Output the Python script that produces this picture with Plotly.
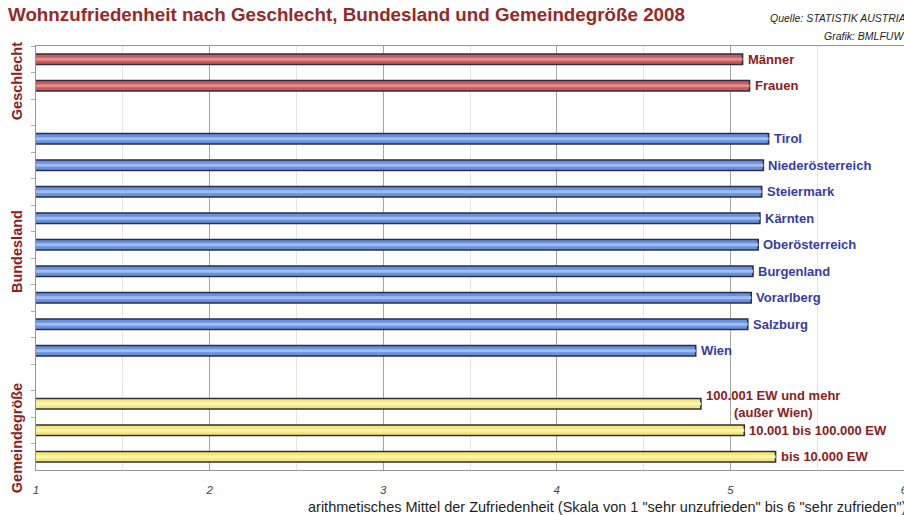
import plotly.graph_objects as go

# Daten
geschlecht = ["Männer", "Frauen"]
geschlecht_werte = [5.07, 5.11]

bundesland = ["Tirol", "Niederösterreich", "Steiermark", "Kärnten", "Oberösterreich",
              "Burgenland", "Vorarlberg", "Salzburg", "Wien"]
bundesland_werte = [5.22, 5.19, 5.18, 5.17, 5.16, 5.13, 5.12, 5.10, 4.80]

gemeinde = ["100.001 EW und mehr", "10.001 bis 100.000 EW", "bis 10.000 EW"]
gemeinde_labels = ["100.001 EW und mehr<br>(außer Wien)", "10.001 bis 100.000 EW", "bis 10.000 EW"]
gemeinde_werte = [4.83, 5.08, 5.26]

x_ticks = [1, 2, 3, 4, 5, 6]

DARK_RED = "rgb(140,32,32)"
LABEL_BLUE = "rgb(55,60,165)"
OUTLINE = "rgb(45,45,65)"

# category order with empty slots between the groups
category_order = geschlecht + ["_gap1"] + bundesland + ["_gap2"] + gemeinde

groups = [
    (geschlecht, geschlecht_werte, geschlecht, "rgb(200,92,92)", "rgb(228,140,140)", DARK_RED),
    (bundesland, bundesland_werte, bundesland, "rgb(105,145,225)", "rgb(160,190,240)", LABEL_BLUE),
    (gemeinde, gemeinde_werte, gemeinde_labels, "rgb(245,232,120)", "rgb(252,246,180)", DARK_RED),
]

fig = go.Figure()
annotations = []

for cats, vals, labels, fill, highlight, text_color in groups:
    fig.add_trace(go.Bar(y=cats, x=vals, orientation="h", width=0.4,
                         marker=dict(color=fill, line=dict(color=OUTLINE, width=1.6)),
                         showlegend=False, hoverinfo="x+y"))
    # lighter stripe in the middle (cylinder look)
    fig.add_trace(go.Bar(y=cats, x=vals, orientation="h", width=0.12,
                         marker=dict(color=highlight, line=dict(width=0)),
                         showlegend=False, hoverinfo="skip"))
    for c, v, lab in zip(cats, vals, labels):
        annotations.append(dict(x=v, y=c, xref="x", yref="y", text=lab, showarrow=False,
                                xanchor="left", yanchor="middle", xshift=3, align="center",
                                font=dict(family="Liberation Sans, Arial", size=13,
                                          color=text_color, weight="bold")))

# group titles on the left
for txt, ypos in [("Geschlecht", 0.917), ("Bundesland", 0.514), ("Gemeindegröße", 0.075)]:
    annotations.append(dict(x=0, y=ypos, xref="paper", yref="paper", text=txt, textangle=-90,
                            showarrow=False, xanchor="center", yanchor="middle", xshift=-19,
                            font=dict(family="Liberation Sans, Arial", size=14.5,
                                      color=DARK_RED, weight="bold")))

# source
annotations.append(dict(x=1, y=1.066, xref="paper", yref="paper", text="Quelle: STATISTIK AUSTRIA",
                        showarrow=False, xanchor="right", yanchor="middle", xshift=4,
                        font=dict(family="Liberation Sans, Arial", size=10.5, color="rgb(30,30,30)",
                                  style="italic")))
annotations.append(dict(x=1, y=1.024, xref="paper", yref="paper", text="Grafik: BMLFUW",
                        showarrow=False, xanchor="right", yanchor="middle", xshift=2,
                        font=dict(family="Liberation Sans, Arial", size=10.5, color="rgb(30,30,30)",
                                  style="italic")))

# x axis title (right aligned, like the original)
annotations.append(dict(x=1, y=-0.087, xref="paper", yref="paper",
                        text='arithmetisches Mittel der Zufriedenheit (Skala von 1 "sehr unzufrieden" bis 6 "sehr zufrieden")',
                        showarrow=False, xanchor="right", yanchor="middle", xshift=4,
                        font=dict(family="Liberation Sans, Arial", size=14.5,
                                  color="rgb(30,30,30)")))

fig.update_layout(
    width=904, height=515,
    barmode="overlay",
    paper_bgcolor="white", plot_bgcolor="white",
    margin=dict(l=36, r=0, t=46, b=45, autoexpand=False),
    title=dict(text="Wohnzufriedenheit nach Geschlecht, Bundesland und Gemeindegröße 2008",
               x=8 / 904, xanchor="left", xref="container", y=1 - 14 / 515, yanchor="middle",
               font=dict(family="Liberation Sans, Arial", size=18.8,
                         color="rgb(150,40,40)", weight="bold")),
    annotations=annotations,
    xaxis=dict(range=[1, 6], tickvals=x_ticks, showgrid=True, gridcolor="rgb(165,165,165)",
               gridwidth=1, minor=dict(dtick=0.5, showgrid=True, gridcolor="rgb(228,228,228)"),
               showline=True, linecolor="rgb(150,150,150)", mirror=True, zeroline=False,
               ticks="", ticklabeloverflow="allow", ticklabelstandoff=9,
               tickfont=dict(family="Liberation Sans, Arial", size=11.5,
                             color="rgb(70,70,70)", style="italic")),
    yaxis=dict(categoryorder="array", categoryarray=category_order, autorange="reversed",
               showticklabels=False, showgrid=False, showline=True, linecolor="rgb(150,150,150)",
               ticks="outside", ticklen=4, tickcolor="rgb(170,170,170)", tickson="boundaries"),
)

# page without body margin, so the 904x515 figure fills the window exactly
fig.write_html("out.html", config={"displayModeBar": False},
               post_script="document.body.style.margin='0';")
